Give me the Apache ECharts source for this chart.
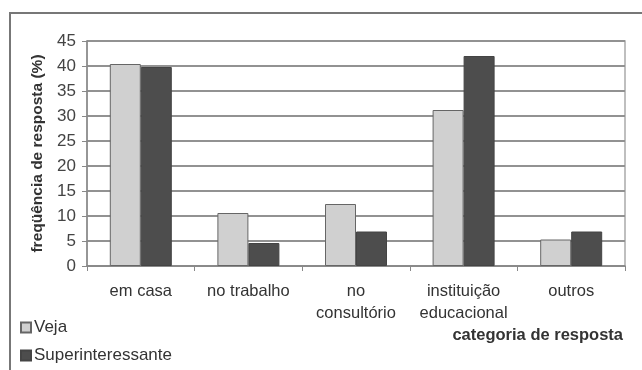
<!DOCTYPE html>
<html>
<head>
<meta charset="utf-8">
<script src="https://cdn.jsdelivr.net/npm/echarts@6/dist/echarts.min.js"></script>
<style>html,body{margin:0;padding:0;background:#fff;}#c{width:642px;height:370px;}</style>
</head>
<body>
<div id="c"></div>
<script>
const categories = ['em casa', 'no trabalho', 'no\nconsultório', 'instituição\neducacional', 'outros'];
const vejaValues = [40.4, 10.6, 12.4, 31.2, 5.3];
const superValues = [39.8, 4.6, 6.9, 42.0, 6.9];
const seriesNames = ['Veja', 'Superinteressante'];
const yTicks = [0, 5, 10, 15, 20, 25, 30, 35, 40, 45];

const chart = echarts.init(document.getElementById('c'), null, {renderer: 'canvas'});
const font = 'Liberation Sans, Arial, sans-serif';
const legendBase = {
  orient: 'vertical', left: 20, padding: 0, itemWidth: 10, itemHeight: 10, itemGap: 3,
  icon: 'rect',
  textStyle: {fontSize: 17, color: '#333', fontFamily: font, padding: [0, 0, 0, -2]}
};
chart.setOption({
  animation: false,
  backgroundColor: '#fff',
  textStyle: {fontFamily: font},
  grid: {left: 87, right: 17, top: 41, bottom: 104, show: true, borderColor: '#aaa', borderWidth: 1.5},
  legend: [
    Object.assign({}, legendBase, {top: 319, data: [seriesNames[0]]}),
    Object.assign({}, legendBase, {top: 347, data: [seriesNames[1]]})
  ],
  xAxis: {
    type: 'category', data: categories,
    axisLine: {lineStyle: {color: '#888', width: 1.5}},
    axisTick: {show: true, length: 5, lineStyle: {color: '#888'}},
    axisLabel: {fontSize: 16.5, lineHeight: 22, color: '#333', margin: 14, interval: 0}
  },
  yAxis: {
    type: 'value', min: yTicks[0], max: yTicks[yTicks.length - 1], interval: 5,
    name: 'freqüência de resposta (%)', nameLocation: 'middle', nameRotate: 90, nameGap: 40,
    nameTextStyle: {fontSize: 15.5, fontWeight: 'bold', color: '#333'},
    axisLine: {show: true, lineStyle: {color: '#888', width: 1.5}},
    axisTick: {show: true, length: 5, lineStyle: {color: '#888'}},
    axisLabel: {fontSize: 17, color: '#444', margin: 11},
    splitLine: {lineStyle: {color: '#929292', width: 2}}
  },
  series: [
    {name: seriesNames[0], type: 'bar', data: vejaValues, barWidth: 31, barGap: '0%',
     itemStyle: {color: '#d0d0d0', borderColor: '#666', borderWidth: 1}},
    {name: seriesNames[1], type: 'bar', data: superValues, barWidth: 31,
     itemStyle: {color: '#4d4d4d', borderColor: '#444', borderWidth: 1}}
  ],
  graphic: [
    {type: 'rect', shape: {x: 10, y: 13, width: 700, height: 400}, style: {fill: 'none', stroke: '#777', lineWidth: 2}, silent: true},
    {type: 'text', right: 19, top: 327, style: {text: 'categoria de resposta', font: 'bold 16.5px ' + font, fill: '#333'}}
  ]
});
</script>
</body>
</html>
